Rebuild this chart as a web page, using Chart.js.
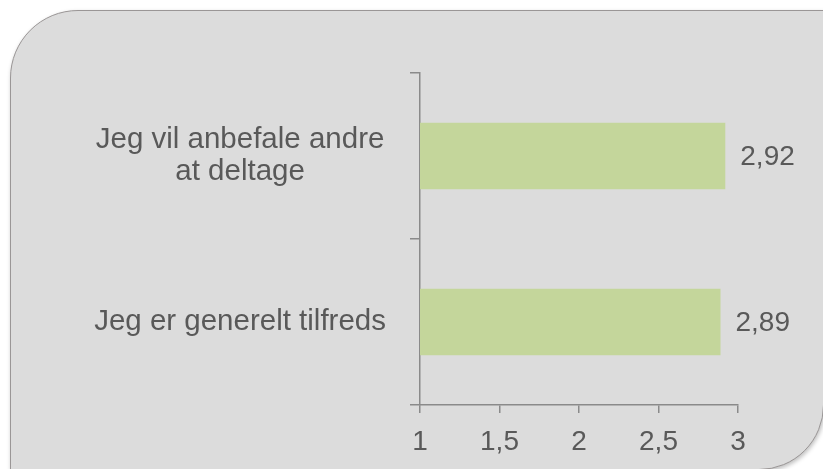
<!DOCTYPE html>
<html>
<head>
<meta charset="utf-8">
<script src="https://cdn.jsdelivr.net/npm/chart.js@4/dist/chart.umd.min.js"></script>
<style>
  html, body { margin: 0; padding: 0; background: #fff; }
  body { width: 823px; height: 469px; position: relative; overflow: hidden; }
  .panel {
    position: absolute; left: 10px; top: 10px; width: 812px; height: 458px;
    background: #dcdcdc;
    border: 1.5px solid #9a9696;
    border-radius: 68px 0 65px 0;
    box-shadow: 1px 2px 4px rgba(0,0,0,0.25);
  }
  #chart { position: absolute; left: 0; top: 0; }
</style>
</head>
<body>
<div class="panel"></div>
<canvas id="chart" width="823" height="469"></canvas>
<script>
/* ===== Data ===== */
const CATEGORIES = [
  ['Jeg vil anbefale andre', 'at deltage'],
  'Jeg er generelt tilfreds',
];
const VALUES = [2.92, 2.89];
const X_TICKS = [1, 1.5, 2, 2.5, 3];

const TEXT_COLOR = '#595959';
const AXIS_COLOR = '#8a8a8a';
const FONT = "'Liberation Sans', Arial, sans-serif";

const fmt = v => String(v).replace('.', ',');

/* ===== Value labels next to bars ===== */
const valueLabels = {
  id: 'valueLabels',
  afterDatasetsDraw(chart) {
    const ctx = chart.ctx;
    const meta = chart.getDatasetMeta(0);
    ctx.save();
    ctx.font = `28px ${FONT}`;
    ctx.fillStyle = TEXT_COLOR;
    ctx.textAlign = 'left';
    ctx.textBaseline = 'middle';
    meta.data.forEach((bar, i) => {
      ctx.fillText(fmt(VALUES[i]), bar.x + 15, bar.y + 1);
    });
    ctx.restore();
  },
};

new Chart(document.getElementById('chart'), {
  type: 'bar',
  data: {
    labels: CATEGORIES,
    datasets: [{
      data: VALUES,
      backgroundColor: '#c4d69b',
      borderWidth: 0,
      categoryPercentage: 0.8,
      barPercentage: 0.5,
    }],
  },
  options: {
    indexAxis: 'y',
    responsive: false,
    animation: false,
    layout: { padding: { top: 73, right: 85, bottom: 0, left: 0 } },
    plugins: { legend: { display: false }, tooltip: { enabled: false } },
    scales: {
      x: {
        min: 1,
        max: 3,
        afterBuildTicks: scale => { scale.ticks = X_TICKS.map(v => ({ value: v })); },
        afterFit: scale => { scale.height = 64; },
        border: { display: true, color: AXIS_COLOR, width: 1.5 },
        grid: { drawOnChartArea: false, drawTicks: true, tickLength: 8, color: AXIS_COLOR, lineWidth: 1.5 },
        ticks: {
          color: TEXT_COLOR,
          font: { family: FONT, size: 28 },
          padding: 12,
          maxRotation: 0,
          callback: v => fmt(v),
        },
      },
      y: {
        afterFit: scale => { scale.width = 420; },
        border: { display: true, color: AXIS_COLOR, width: 1.5 },
        grid: { offset: true, drawOnChartArea: false, drawTicks: true, tickLength: 10, color: AXIS_COLOR, lineWidth: 1.5 },
        ticks: {
          color: TEXT_COLOR,
          font: { family: FONT, size: 29.5, lineHeight: 1.1 },
          padding: 24,
          crossAlign: 'center',
        },
      },
    },
  },
  plugins: [valueLabels],
});
</script>
</body>
</html>
